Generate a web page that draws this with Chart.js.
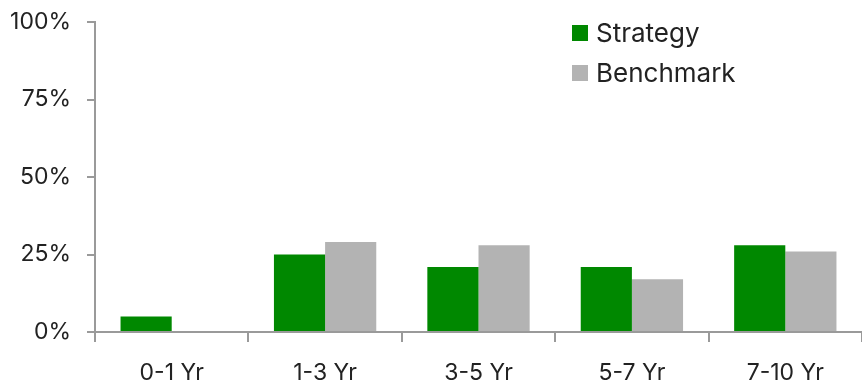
<!DOCTYPE html>
<html>
<head>
<meta charset="utf-8">
<script src="https://cdn.jsdelivr.net/npm/chart.js@4"></script>
<style>
  html, body { margin: 0; padding: 0; background: #fff; }
  #wrap { width: 862px; height: 381px; position: relative; }
</style>
</head>
<body>
<div id="wrap"><canvas id="durationChart"></canvas></div>
<script>
const categories = ['0-1 Yr', '1-3 Yr', '3-5 Yr', '5-7 Yr', '7-10 Yr'];
const strategyValues = [5, 25, 21, 21, 28];
const benchmarkValues = [0, 29, 28, 17, 26];
const yTicks = [0, 25, 50, 75, 100];

const FONT = 'Inter, "Noto Sans", sans-serif';
const TEXT_COLOR = '#222222';
const AXIS_COLOR = '#9a9a9a';

// vertical legend drawn in the upper right of the plot
const stackedLegend = {
  id: 'stackedLegend',
  afterDraw(chart) {
    const ctx = chart.ctx;
    const x = 572;
    let y = 25;
    ctx.save();
    ctx.font = '26px ' + FONT;
    ctx.textBaseline = 'middle';
    chart.data.datasets.forEach(ds => {
      ctx.fillStyle = ds.backgroundColor;
      ctx.fillRect(x, y, 16, 16);
      ctx.fillStyle = TEXT_COLOR;
      ctx.fillText(ds.label, x + 24, y + 9);
      y += 40;
    });
    ctx.restore();
  }
};

new Chart(document.getElementById('durationChart'), {
  type: 'bar',
  data: {
    labels: categories,
    datasets: [
      { label: 'Strategy', data: strategyValues, backgroundColor: '#008800' },
      { label: 'Benchmark', data: benchmarkValues, backgroundColor: '#b3b3b3' }
    ]
  },
  options: {
    responsive: true,
    maintainAspectRatio: false,
    animation: false,
    layout: { padding: { top: 22, right: 0, left: 0, bottom: 0 } },
    datasets: {
      bar: { barPercentage: 1, categoryPercentage: 0.667 }
    },
    plugins: {
      legend: { display: false },
      tooltip: { enabled: false }
    },
    scales: {
      x: {
        grid: {
          offset: true,
          drawOnChartArea: false,
          drawTicks: true,
          tickLength: 10,
          color: AXIS_COLOR,
          lineWidth: 2
        },
        border: { color: AXIS_COLOR, width: 2 },
        ticks: {
          color: TEXT_COLOR,
          font: { family: FONT, size: 23 },
          padding: 17,
          maxRotation: 0
        },
        afterFit(scale) { scale.height = 49; }
      },
      y: {
        min: 0,
        max: 100,
        afterBuildTicks(scale) { scale.ticks = yTicks.map(v => ({ value: v })); },
        grid: {
          drawOnChartArea: false,
          drawTicks: true,
          tickLength: 8,
          color: AXIS_COLOR,
          lineWidth: 2
        },
        border: { color: AXIS_COLOR, width: 2 },
        ticks: {
          color: TEXT_COLOR,
          font: { family: FONT, size: 23 },
          padding: 16,
          callback: v => v + '%'
        },
        afterFit(scale) {
          scale.width = 95;
          scale.paddingTop = 0;
          scale.paddingBottom = 0;
        }
      }
    }
  },
  plugins: [stackedLegend]
});
</script>
</body>
</html>
